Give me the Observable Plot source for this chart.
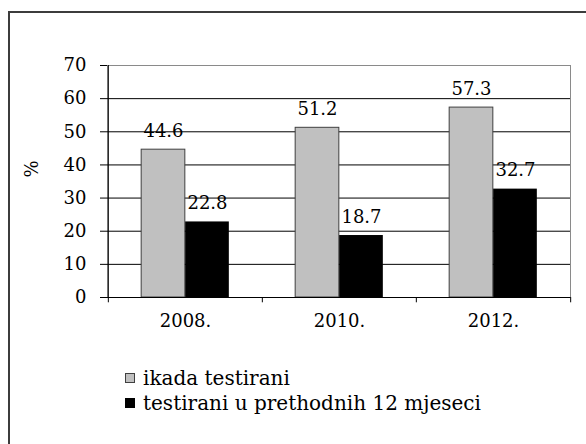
<!DOCTYPE html>
<html>
<head>
<meta charset="utf-8">
<script src="https://cdn.jsdelivr.net/npm/d3@7"></script>
<script src="https://cdn.jsdelivr.net/npm/@observablehq/plot@0.6"></script>
<style>
  html, body { margin: 0; padding: 0; background: #fff; }
  #wrap { position: relative; width: 586px; height: 444px; overflow: hidden; font-family: "DejaVu Serif", serif; }
  #border { position: absolute; left: 8px; top: 11px; width: 700px; height: 600px; border-left: 2px solid #3c3c3c; border-top: 2px solid #3c3c3c; }
  #chart { position: absolute; left: 0; top: 0; }
  .leg { position: absolute; left: 125px; font-size: 20px; color: #000; white-space: nowrap; line-height: 1; height: 22px; }
  .sw { position: absolute; left: 0; width: 10px; height: 10px; box-sizing: border-box; }
  .lt { position: absolute; left: 18px; top: 0; }
</style>
</head>
<body>
<div id="wrap">
  <div id="border"></div>
  <div id="chart"></div>
  <div class="leg" style="top:368px"><span class="sw" style="top:5px;background:#c0c0c0;border:1px solid #404040"></span><span class="lt" id="l0"></span></div>
  <div class="leg" style="top:393px"><span class="sw" style="top:5px;background:#000"></span><span class="lt" id="l1"></span></div>
</div>
<script>
const years = ["2008.", "2010.", "2012."];
const seriesNames = ["ikada testirani", "testirani u prethodnih 12 mjeseci"];
const everTested = [44.6, 51.2, 57.3];
const last12 = [22.8, 18.7, 32.7];
const yTicks = [0, 10, 20, 30, 40, 50, 60, 70];
const gridTicks = [10, 20, 30, 40, 50, 60];

const data = [];
years.forEach((y, i) => {
  data.push({year: y, series: seriesNames[0], value: everTested[i]});
  data.push({year: y, series: seriesNames[1], value: last12[i]});
});
const s0 = data.filter(d => d.series === seriesNames[0]);
const s1 = data.filter(d => d.series === seriesNames[1]);

const W = 586, H = 340;
const mL = 107, mR = 16, mT = 65, mB = 43;
const half = (W - mL - mR) / years.length / 2;
const barW = 44;

const chart = Plot.plot({
  width: W,
  height: H,
  marginLeft: mL,
  marginRight: mR,
  marginTop: mT,
  marginBottom: mB,
  style: {fontFamily: "DejaVu Serif, serif", fontSize: "18px", color: "#000", background: "transparent"},
  x: {domain: years, padding: 0, label: null},
  y: {domain: [0, 70], label: null},
  marks: [
    Plot.frame({stroke: "#8a8a8a"}),
    Plot.gridY(gridTicks, {stroke: "#000", strokeOpacity: 1}),
    Plot.barY(s0, {x: "year", y: "value", fill: "#c0c0c0", stroke: "#404040", strokeWidth: 1,
      insetLeft: half - barW, insetRight: half}),
    Plot.barY(s1, {x: "year", y: "value", fill: "#000",
      insetLeft: half, insetRight: half - barW}),
    Plot.text(s0, {x: "year", y: "value", text: d => d.value.toFixed(1), dx: -barW / 2, dy: -13, lineAnchor: "bottom", fontSize: 18}),
    Plot.text(s1, {x: "year", y: "value", text: d => d.value.toFixed(1), dx: barW / 2, dy: -13, lineAnchor: "bottom", fontSize: 18}),
    Plot.ruleY([0], {stroke: "#000"}),
    Plot.ruleX([years[0]], {dx: -half, y1: -1.6, y2: 70, stroke: "#000"}),
    Plot.ruleX(years.slice(1), {dx: -half, y1: -1.6, y2: 0, stroke: "#000"}),
    Plot.ruleX([years[years.length - 1]], {dx: half, y1: -1.6, y2: 0, stroke: "#000"}),
    Plot.axisY({ticks: yTicks, tickSize: 7, tickPadding: 14, label: null, fontSize: 18}),
    Plot.axisX({tickSize: 0, tickPadding: 17, label: null, fontSize: 18}),
    Plot.text(["%"], {frameAnchor: "left", dx: -75, dy: -4, rotate: -90, fontSize: 18})
  ]
});
document.getElementById("chart").appendChild(chart);
document.getElementById("l0").textContent = seriesNames[0];
document.getElementById("l1").textContent = seriesNames[1];
</script>
</body>
</html>
